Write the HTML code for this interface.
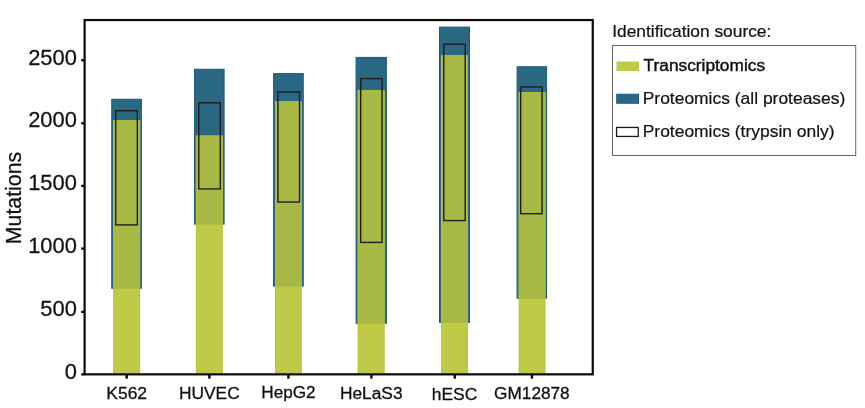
<!DOCTYPE html>
<html><head><meta charset="utf-8"><title>Mutations</title>
<style>
html,body{margin:0;padding:0;background:#fff;}
body{width:865px;height:408px;overflow:hidden;}
svg{display:block;}
text{font-family:"Liberation Sans",Arial,Helvetica,sans-serif;fill:#111;}
</style></head><body>
<svg width="865" height="408" viewBox="0 0 865 408">
<rect x="0" y="0" width="865" height="408" fill="#ffffff"/>
<rect x="111.75" y="99.25" width="29.65" height="189.00" fill="#2a6884" stroke="#1a5a80" stroke-width="1"/>
<rect x="113.10" y="120.00" width="27.00" height="253.60" fill="#bfca47"/>
<rect x="113.10" y="120.00" width="27.00" height="168.75" fill="#a7b944"/>
<rect x="113.60" y="120.50" width="26.00" height="253.60" fill="none" stroke="#b4c430" stroke-opacity="0.55" stroke-width="1"/>
<rect x="115.70" y="110.70" width="21.60" height="114.20" fill="none" stroke="#211d1e" stroke-width="1.4"/>
<rect x="194.50" y="69.25" width="29.60" height="154.85" fill="#2a6884" stroke="#1a5a80" stroke-width="1"/>
<rect x="195.90" y="135.60" width="27.00" height="238.00" fill="#bfca47"/>
<rect x="195.90" y="135.60" width="27.00" height="89.00" fill="#a7b944"/>
<rect x="196.40" y="136.10" width="26.00" height="238.00" fill="none" stroke="#b4c430" stroke-opacity="0.55" stroke-width="1"/>
<rect x="198.80" y="102.80" width="21.50" height="86.10" fill="none" stroke="#211d1e" stroke-width="1.4"/>
<rect x="273.60" y="73.60" width="29.65" height="212.50" fill="#2a6884" stroke="#1a5a80" stroke-width="1"/>
<rect x="275.00" y="101.25" width="26.90" height="272.35" fill="#bfca47"/>
<rect x="275.00" y="101.25" width="26.90" height="185.35" fill="#a7b944"/>
<rect x="275.50" y="101.75" width="25.90" height="272.35" fill="none" stroke="#b4c430" stroke-opacity="0.55" stroke-width="1"/>
<rect x="277.95" y="91.95" width="21.60" height="110.10" fill="none" stroke="#211d1e" stroke-width="1.4"/>
<rect x="356.10" y="57.40" width="30.30" height="265.85" fill="#2a6884" stroke="#1a5a80" stroke-width="1"/>
<rect x="357.75" y="90.25" width="26.85" height="283.35" fill="#bfca47"/>
<rect x="357.75" y="90.25" width="26.85" height="233.50" fill="#a7b944"/>
<rect x="358.25" y="90.75" width="25.85" height="283.35" fill="none" stroke="#b4c430" stroke-opacity="0.55" stroke-width="1"/>
<rect x="360.70" y="78.60" width="21.35" height="163.80" fill="none" stroke="#211d1e" stroke-width="1.4"/>
<rect x="439.50" y="27.10" width="30.00" height="295.30" fill="#2a6884" stroke="#1a5a80" stroke-width="1"/>
<rect x="441.00" y="55.25" width="26.90" height="318.35" fill="#bfca47"/>
<rect x="441.00" y="55.25" width="26.90" height="267.65" fill="#a7b944"/>
<rect x="441.50" y="55.75" width="25.90" height="318.35" fill="none" stroke="#b4c430" stroke-opacity="0.55" stroke-width="1"/>
<rect x="443.80" y="44.20" width="21.40" height="176.35" fill="none" stroke="#211d1e" stroke-width="1.4"/>
<rect x="517.10" y="66.75" width="29.50" height="231.50" fill="#2a6884" stroke="#1a5a80" stroke-width="1"/>
<rect x="518.75" y="92.25" width="26.65" height="281.35" fill="#bfca47"/>
<rect x="518.75" y="92.25" width="26.65" height="206.50" fill="#a7b944"/>
<rect x="519.25" y="92.75" width="25.65" height="281.35" fill="none" stroke="#b4c430" stroke-opacity="0.55" stroke-width="1"/>
<rect x="520.70" y="86.95" width="21.35" height="126.75" fill="none" stroke="#211d1e" stroke-width="1.4"/>
<rect x="84.6" y="20.05" width="508.15" height="354.3" fill="none" stroke="#0a0a0a" stroke-width="2.2"/>
<line x1="81.2" x2="84" y1="60.25" y2="60.25" stroke="#0a0a0a" stroke-width="2.3"/>
<line x1="81.2" x2="84" y1="123.25" y2="123.25" stroke="#0a0a0a" stroke-width="2.3"/>
<line x1="81.2" x2="84" y1="185.9" y2="185.9" stroke="#0a0a0a" stroke-width="2.3"/>
<line x1="81.2" x2="84" y1="248.6" y2="248.6" stroke="#0a0a0a" stroke-width="2.3"/>
<line x1="81.2" x2="84" y1="311.9" y2="311.9" stroke="#0a0a0a" stroke-width="2.3"/>
<line x1="81.2" x2="84" y1="374.4" y2="374.4" stroke="#0a0a0a" stroke-width="2.3"/>
<text transform="translate(76.9,65.0) scale(1.028,1)" font-size="21.3" text-anchor="end" stroke="#111" stroke-width="0.25">2500</text>
<text transform="translate(76.9,127.4) scale(1.028,1)" font-size="21.3" text-anchor="end" stroke="#111" stroke-width="0.25">2000</text>
<text transform="translate(76.9,190.0) scale(1.028,1)" font-size="21.3" text-anchor="end" stroke="#111" stroke-width="0.25">1500</text>
<text transform="translate(76.9,253.0) scale(1.028,1)" font-size="21.3" text-anchor="end" stroke="#111" stroke-width="0.25">1000</text>
<text transform="translate(76.9,316.0) scale(1.028,1)" font-size="21.3" text-anchor="end" stroke="#111" stroke-width="0.25">500</text>
<text transform="translate(76.9,379.25) scale(1.028,1)" font-size="21.3" text-anchor="end" stroke="#111" stroke-width="0.25">0</text>
<line x1="126.7" x2="126.7" y1="375" y2="378.7" stroke="#0a0a0a" stroke-width="2.4"/>
<text transform="translate(106.30,398.70) scale(1.01,1)" font-size="17.3" stroke="#111" stroke-width="0.3">K562</text>
<line x1="209.4" x2="209.4" y1="375" y2="378.7" stroke="#0a0a0a" stroke-width="2.4"/>
<text transform="translate(178.95,399.40) scale(1.004,1)" font-size="17.3" stroke="#111" stroke-width="0.3">HUVEC</text>
<line x1="288.4" x2="288.4" y1="375" y2="378.7" stroke="#0a0a0a" stroke-width="2.4"/>
<text transform="translate(261.30,398.25) scale(0.992,1)" font-size="17.3" stroke="#111" stroke-width="0.3">HepG2</text>
<line x1="371.4" x2="371.4" y1="375" y2="378.7" stroke="#0a0a0a" stroke-width="2.4"/>
<text transform="translate(340.00,399.10) scale(1.001,1)" font-size="17.3" stroke="#111" stroke-width="0.3">HeLaS3</text>
<line x1="454.75" x2="454.75" y1="375" y2="378.7" stroke="#0a0a0a" stroke-width="2.4"/>
<text transform="translate(431.70,399.60) scale(1.01,1)" font-size="17.3" stroke="#111" stroke-width="0.3">hESC</text>
<line x1="531.9" x2="531.9" y1="375" y2="378.7" stroke="#0a0a0a" stroke-width="2.4"/>
<text transform="translate(494.10,399.10) scale(0.995,1)" font-size="17.3" stroke="#111" stroke-width="0.3">GM12878</text>
<text transform="translate(20.6,244.2) rotate(-90)" font-size="21.3" stroke="#111" stroke-width="0.25">Mutations</text>
<text transform="translate(612.2,36.9) scale(1.042,1)" font-size="16.65" stroke="#111" stroke-width="0.2">Identification source:</text>
<rect x="612.5" y="45.5" width="243.2" height="110" fill="#fff" stroke="#666" stroke-width="1"/>
<rect x="616.5" y="61.5" width="22.5" height="9.5" fill="#bfca47"/>
<rect x="616.75" y="94.25" width="21.75" height="9" fill="#2a6884" stroke="#1a5a80" stroke-width="1"/>
<rect x="616.55" y="127.45" width="21.7" height="9.0" fill="#fff" stroke="#1a1a1a" stroke-width="1.3"/>
<text transform="translate(643.6,71.25) scale(1.04,1)" font-size="16.65" stroke="#111" stroke-width="0.42">Transcriptomics</text>
<text transform="translate(642.7,104.1) scale(1.048,1)" font-size="16.65" stroke="#111" stroke-width="0.2">Proteomics (all proteases)</text>
<text transform="translate(642.7,136.9) scale(1.048,1)" font-size="16.65" stroke="#111" stroke-width="0.2">Proteomics (trypsin only)</text>
</svg>
</body></html>
